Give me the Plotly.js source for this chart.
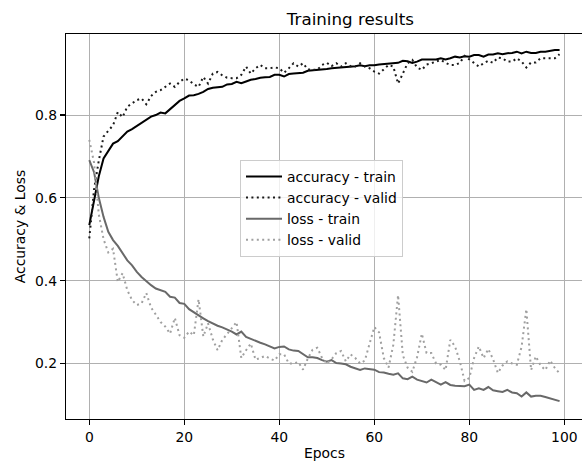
<!DOCTYPE html>
<html>
<head>
<meta charset="utf-8">
<script src="https://cdn.plot.ly/plotly-3.0.1.min.js"></script>
<style>
html,body{margin:0;padding:0;overflow:hidden;background:#fff;}
#chart{width:590px;height:461px;}
</style>
</head>
<body>
<div id="chart"></div>
<script>
const epochs = Array.from({length: 100}, (_, i) => i);

const accTrain = [
0.534, 0.598, 0.652, 0.695, 0.713, 0.731, 0.737, 0.749, 0.760, 0.766,
0.774, 0.782, 0.790, 0.796, 0.800, 0.806, 0.804, 0.814, 0.822, 0.834,
0.840, 0.847, 0.848, 0.851, 0.856, 0.863, 0.866, 0.867, 0.868, 0.874,
0.875, 0.880, 0.877, 0.881, 0.885, 0.887, 0.890, 0.891, 0.892, 0.897,
0.897, 0.893, 0.899, 0.900, 0.901, 0.902, 0.907, 0.908, 0.908, 0.909,
0.911, 0.913, 0.914, 0.914, 0.915, 0.916, 0.918, 0.920, 0.918, 0.920,
0.920, 0.922, 0.923, 0.924, 0.926, 0.926, 0.931, 0.930, 0.926, 0.929,
0.934, 0.934, 0.933, 0.934, 0.937, 0.934, 0.937, 0.941, 0.939, 0.942,
0.941, 0.945, 0.945, 0.941, 0.946, 0.946, 0.949, 0.947, 0.949, 0.950,
0.953, 0.949, 0.953, 0.950, 0.950, 0.953, 0.953, 0.955, 0.957, 0.957
];

const accValid = [
0.502, 0.620, 0.690, 0.748, 0.762, 0.775, 0.807, 0.795, 0.820, 0.828,
0.836, 0.840, 0.826, 0.846, 0.856, 0.860, 0.868, 0.876, 0.868, 0.880,
0.888, 0.884, 0.874, 0.868, 0.892, 0.876, 0.900, 0.904, 0.896, 0.890,
0.889, 0.889, 0.897, 0.917, 0.900, 0.913, 0.921, 0.913, 0.913, 0.915,
0.913, 0.902, 0.913, 0.925, 0.917, 0.925, 0.910, 0.909, 0.909, 0.921,
0.926, 0.918, 0.925, 0.917, 0.925, 0.918, 0.917, 0.925, 0.917, 0.913,
0.905, 0.900, 0.910, 0.921, 0.917, 0.876, 0.900, 0.925, 0.933, 0.915,
0.909, 0.922, 0.925, 0.929, 0.933, 0.926, 0.921, 0.921, 0.926, 0.943,
0.935, 0.925, 0.917, 0.925, 0.931, 0.926, 0.939, 0.937, 0.929, 0.929,
0.937, 0.929, 0.915, 0.927, 0.927, 0.937, 0.937, 0.937, 0.937, 0.947
];

const lossTrain = [
0.691, 0.662, 0.600, 0.554, 0.518, 0.498, 0.484, 0.466, 0.449, 0.437,
0.421, 0.409, 0.398, 0.389, 0.381, 0.377, 0.373, 0.361, 0.359, 0.346,
0.344, 0.331, 0.323, 0.316, 0.309, 0.302, 0.296, 0.291, 0.287, 0.282,
0.277, 0.270, 0.277, 0.264, 0.259, 0.255, 0.250, 0.246, 0.240, 0.236,
0.240, 0.241, 0.234, 0.231, 0.230, 0.222, 0.215, 0.215, 0.213, 0.208,
0.204, 0.208, 0.201, 0.200, 0.198, 0.192, 0.188, 0.184, 0.188, 0.186,
0.185, 0.179, 0.178, 0.175, 0.173, 0.176, 0.164, 0.162, 0.168, 0.161,
0.158, 0.154, 0.161, 0.154, 0.149, 0.155, 0.148, 0.146, 0.146, 0.145,
0.149, 0.136, 0.140, 0.136, 0.143, 0.135, 0.133, 0.131, 0.136, 0.130,
0.128, 0.120, 0.130, 0.120, 0.122, 0.122, 0.119, 0.116, 0.112, 0.109
];

const lossValid = [
0.740, 0.685, 0.560, 0.500, 0.468, 0.477, 0.397, 0.418, 0.377, 0.353,
0.341, 0.345, 0.370, 0.335, 0.318, 0.300, 0.289, 0.272, 0.310, 0.268,
0.262, 0.277, 0.268, 0.355, 0.265, 0.297, 0.258, 0.232, 0.257, 0.270,
0.285, 0.300, 0.213, 0.232, 0.248, 0.209, 0.213, 0.218, 0.212, 0.207,
0.222, 0.222, 0.200, 0.200, 0.203, 0.185, 0.212, 0.233, 0.238, 0.213,
0.200, 0.210, 0.225, 0.230, 0.205, 0.222, 0.213, 0.200, 0.207, 0.245,
0.288, 0.275, 0.213, 0.190, 0.245, 0.365, 0.220, 0.190, 0.180, 0.215,
0.272, 0.225, 0.225, 0.200, 0.197, 0.184, 0.257, 0.241, 0.205, 0.158,
0.165, 0.213, 0.241, 0.213, 0.235, 0.210, 0.177, 0.195, 0.205, 0.200,
0.197, 0.240, 0.331, 0.184, 0.217, 0.195, 0.184, 0.207, 0.189, 0.176
];

const seriesNames = ['accuracy - train', 'accuracy - valid', 'loss - train', 'loss - valid'];
const xTicks = [0, 20, 40, 60, 80, 100];
const yTicks = [0.2, 0.4, 0.6, 0.8];

const FONT = 'DejaVu Sans, Verdana, sans-serif';
const DOT = '2px,3.4px';

const traces = [
  {x: epochs, y: accTrain, name: seriesNames[0], mode: 'lines', line: {color: '#000000', width: 2}},
  {x: epochs, y: accValid, name: seriesNames[1], mode: 'lines', line: {color: '#1a1a1a', width: 2, dash: DOT}},
  {x: epochs, y: lossTrain, name: seriesNames[2], mode: 'lines', line: {color: '#696969', width: 2}},
  {x: epochs, y: lossValid, name: seriesNames[3], mode: 'lines', line: {color: '#a0a0a0', width: 2, dash: DOT}}
];

const layout = {
  width: 590, height: 461,
  margin: {l: 66, r: 7, t: 34, b: 42, pad: 0},
  paper_bgcolor: '#ffffff', plot_bgcolor: '#ffffff',
  font: {family: FONT, size: 13.9, color: '#000000'},
  title: {
    text: 'Training results',
    font: {family: FONT, size: 16.7, color: '#000000'},
    x: (324.5) / 590, xref: 'paper', xanchor: 'center',
    y: 1 - 19.5 / 461, yref: 'container', yanchor: 'middle'
  },
  xaxis: {
    range: [-4.905, 103.93],
    tickvals: xTicks, ticktext: xTicks.map(String),
    ticks: 'outside', ticklen: 5, tickwidth: 1.1, tickcolor: '#000',
    showline: true, linecolor: '#000', linewidth: 1.1, mirror: true,
    showgrid: true, gridcolor: '#b0b0b0', gridwidth: 1,
    zeroline: false,
    tickfont: {family: FONT, size: 13.9, color: '#000'},
    title: {text: 'Epocs', font: {family: FONT, size: 13.9, color: '#000'}, standoff: 6},
    automargin: false
  },
  yaxis: {
    range: [0.0658, 0.9957],
    tickvals: yTicks, ticktext: yTicks.map(v => v.toFixed(1)),
    ticks: 'outside', ticklen: 5, tickwidth: 1.1, tickcolor: '#000',
    showline: true, linecolor: '#000', linewidth: 1.1, mirror: true,
    showgrid: true, gridcolor: '#b0b0b0', gridwidth: 1,
    zeroline: false,
    tickfont: {family: FONT, size: 13.9, color: '#000'},
    title: {text: 'Accuracy &amp; Loss', font: {family: FONT, size: 13.9, color: '#000'}, standoff: 6},
    automargin: false
  },
  showlegend: true,
  legend: {
    x: (240 - 66) / 517, xanchor: 'left',
    y: 1 - (160 - 34) / 385, yanchor: 'top',
    bgcolor: 'rgba(255,255,255,0.8)',
    bordercolor: '#cccccc', borderwidth: 1,
    font: {family: FONT, size: 13.9, color: '#000'},
    itemwidth: 36
  }
};

Plotly.newPlot('chart', traces, layout, {displayModeBar: false, staticPlot: true});
</script>
</body>
</html>
